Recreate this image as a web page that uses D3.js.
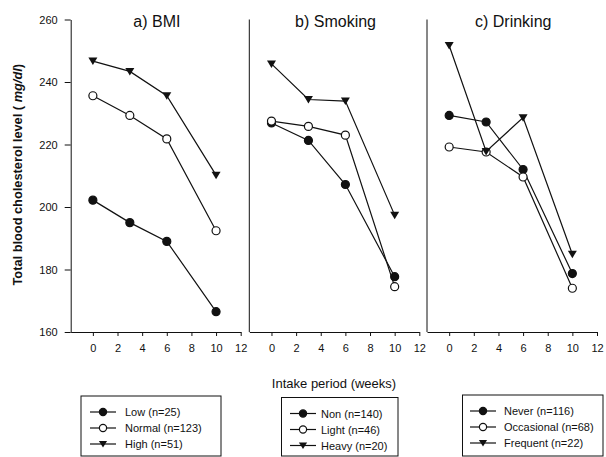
<!DOCTYPE html>
<html>
<head>
    <script type="text/javascript" src="https://d3js.org/d3.v7.min.js"></script>
    <style>
        body { margin: 0; background: #fff; }
        svg { display: block; font-family: "Liberation Sans", Arial, sans-serif; }
    </style>
</head>
<body>
    <svg></svg>
    <script>
        // intake weeks for every series
        const weeks = [0, 3, 6, 10];
        const xTicks = [0, 2, 4, 6, 8, 10, 12];
        const yTicks = [160, 180, 200, 220, 240, 260];

        // a) BMI
        const bmiLow = [202.2, 195.0, 189.0, 166.5];
        const bmiNormal = [235.6, 229.3, 221.8, 192.4];
        const bmiHigh = [246.7, 243.4, 235.6, 210.2];
        // b) Smoking
        const smokeNon = [226.9, 221.3, 207.2, 177.7];
        const smokeLight = [227.5, 225.8, 223.0, 174.5];
        const smokeHeavy = [245.8, 234.4, 233.9, 197.4];
        // c) Drinking
        const drinkNever = [229.3, 227.2, 212.0, 178.7];
        const drinkOccasional = [219.2, 217.6, 209.6, 174.0];
        const drinkFrequent = [251.7, 217.8, 228.6, 184.9];

        const panelTitles = ["a) BMI", "b) Smoking", "c) Drinking"];
        const legendLabels = [
            ["Low (n=25)", "Normal (n=123)", "High (n=51)"],
            ["Non (n=140)", "Light (n=46)", "Heavy (n=20)"],
            ["Never (n=116)", "Occasional (n=68)", "Frequent (n=22)"]
        ];
        const markers = ["filled", "open", "triangle"];

        const panels = [
            [bmiLow, bmiNormal, bmiHigh],
            [smokeNon, smokeLight, smokeHeavy],
            [drinkNever, drinkOccasional, drinkFrequent]
        ];

        const svg = d3.select("svg").attr("width", 606).attr("height", 457);

        const panelLeft = [70.7, 249.3, 427];
        const panelW = 170;
        const plotTop = 19.5, plotBottom = 332;

        const x = d3.scaleLinear().domain([-1.8, 12]).range([0, panelW]);
        const y = d3.scaleLinear().domain([160, 260]).range([plotBottom, plotTop]);

        function drawMarker(g, type, cx, cy, r = 4) {
            if (type === "triangle") {
                g.append("path")
                    .attr("d", `M${cx - r - 0.5},${cy - r + 0.5}L${cx + r + 0.5},${cy - r + 0.5}L${cx},${cy + r}Z`)
                    .attr("fill", "#111");
            } else {
                g.append("circle")
                    .attr("cx", cx).attr("cy", cy).attr("r", r)
                    .attr("fill", type === "filled" ? "#111" : "#fff")
                    .attr("stroke", "#111").attr("stroke-width", 1.2);
            }
        }

        panels.forEach((series, i) => {
            const g = svg.append("g").attr("transform", `translate(${panelLeft[i]},0)`);

            // x axis
            const xa = g.append("g").attr("transform", `translate(0,${plotBottom})`)
                .call(d3.axisBottom(x).tickValues(xTicks).tickSize(4).tickPadding(8).tickSizeOuter(0));
            xa.select(".domain").attr("stroke", "#111");
            xa.selectAll(".tick line").attr("stroke", "#111");
            xa.selectAll("text").attr("font-size", 11).attr("fill", "#111");

            // y axis
            if (i === 0) {
                const ya = g.append("g")
                    .call(d3.axisLeft(y).tickValues(yTicks).tickSize(6).tickPadding(7).tickSizeOuter(0));
                ya.select(".domain").attr("stroke", "#111");
                ya.selectAll(".tick line").attr("stroke", "#111");
                ya.selectAll("text").attr("font-size", 11).attr("fill", "#111");
            } else {
                g.append("line").attr("x1", 0).attr("x2", 0).attr("y1", plotTop).attr("y2", plotBottom)
                    .attr("stroke", "#111");
            }

            g.append("text")
                .attr("x", x(5.2)).attr("y", 27)
                .attr("text-anchor", "middle").attr("font-size", 16).attr("fill", "#111")
                .text(panelTitles[i]);

            const line = d3.line().x((d, k) => x(weeks[k])).y(d => y(d));

            series.forEach((vals, s) => {
                g.append("path").datum(vals)
                    .attr("d", line).attr("fill", "none")
                    .attr("stroke", "#111").attr("stroke-width", 1.2);
            });
            series.forEach((vals, s) => {
                vals.forEach((v, k) => drawMarker(g, markers[s], x(weeks[k]), y(v)));
            });
        });

        // axis titles
        svg.append("text")
            .attr("transform", `translate(22,${(plotTop + plotBottom) / 2 - 1}) rotate(-90)`)
            .attr("text-anchor", "middle").attr("font-size", 12.8).attr("font-weight", "bold")
            .attr("fill", "#111")
            .call(t => {
                t.append("tspan").text("Total blood cholesterol level ( ");
                t.append("tspan").attr("font-style", "italic").text("mg/dl");
                t.append("tspan").text(")");
            });

        svg.append("text")
            .attr("x", 334).attr("y", 388)
            .attr("text-anchor", "middle").attr("font-size", 13).attr("fill", "#111")
            .text("Intake period (weeks)");

        // legends
        const legendBoxes = [
            { x: 81, y: 396, w: 140, lineX: 90, textX: 125 },
            { x: 281.5, y: 397.5, w: 116.5, lineX: 290, textX: 321 },
            { x: 462.5, y: 395, w: 140.5, lineX: 470, textX: 504 }
        ];
        legendBoxes.forEach((b, i) => {
            const g = svg.append("g");
            g.append("rect")
                .attr("x", b.x).attr("y", b.y).attr("width", b.w).attr("height", 456 - b.y)
                .attr("fill", "#fff").attr("stroke", "#111").attr("stroke-width", 1);
            legendLabels[i].forEach((lab, s) => {
                const ry = b.y + 16 + s * 16;
                g.append("line")
                    .attr("x1", b.lineX).attr("x2", b.lineX + 26)
                    .attr("y1", ry).attr("y2", ry)
                    .attr("stroke", "#111").attr("stroke-width", 1.2);
                drawMarker(g, markers[s], b.lineX + 13, ry, 3.6);
                g.append("text")
                    .attr("x", b.textX).attr("y", ry + 4)
                    .attr("font-size", 11).attr("fill", "#111")
                    .text(lab);
            });
        });
    </script>
</body>
</html>
